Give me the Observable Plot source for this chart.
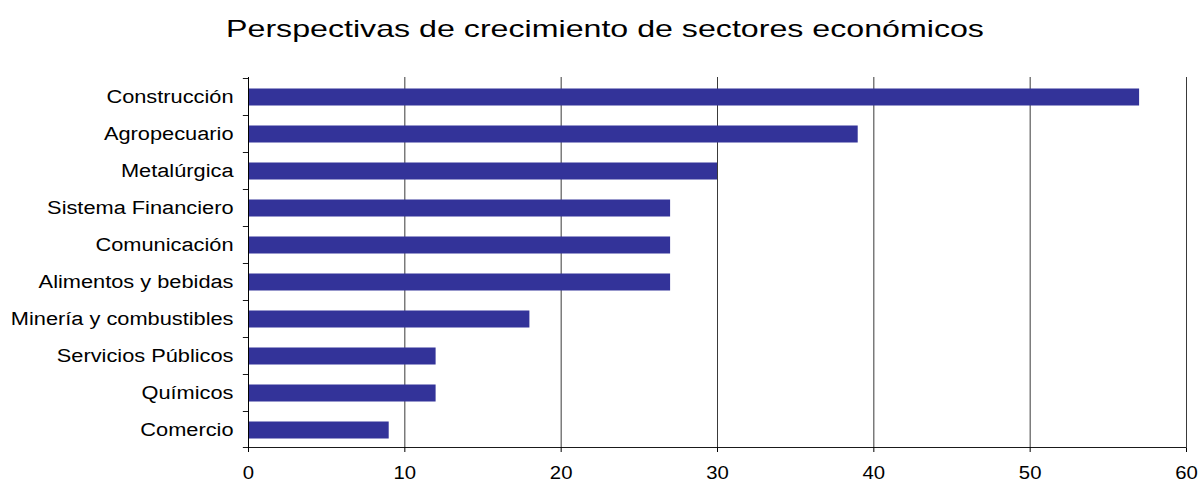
<!DOCTYPE html>
<html>
<head>
<meta charset="utf-8">
<script src="https://cdn.jsdelivr.net/npm/d3@7"></script>
<script src="https://cdn.jsdelivr.net/npm/@observablehq/plot@0.6"></script>
<style>
  html, body { margin: 0; padding: 0; background: #fff; }
  body { width: 1201px; height: 483px; overflow: hidden; font-family: "Liberation Sans", Arial, sans-serif; }
  #title { position: relative; height: 60px; }
  #title span { position: absolute; left: 605px; top: 17px; white-space: nowrap; font-size: 24px; line-height: 24px; color: #000; transform: translateX(-50%) scaleX(1.34); transform-origin: center; }
</style>
</head>
<body>
<div id="title"><span>Perspectivas de crecimiento de sectores económicos</span></div>
<div id="chart"></div>
<script>
const categories = ["Construcción", "Agropecuario", "Metalúrgica", "Sistema Financiero", "Comunicación", "Alimentos y bebidas", "Minería y combustibles", "Servicios Públicos", "Químicos", "Comercio"];
const values = [57, 39, 30, 27, 27, 27, 18, 12, 12, 9];
const xTicks = [0, 10, 20, 30, 40, 50, 60];

const data = categories.map((c, i) => ({sector: c, value: values[i]}));

const H = 423, mTop = 17, mBottom = 35;
const band = (H - mTop - mBottom) / categories.length;

const chart = Plot.plot({
  width: 1201,
  height: H,
  marginTop: mTop,
  marginBottom: mBottom,
  marginLeft: 248,
  marginRight: 15,
  style: {fontFamily: "'Liberation Sans', Arial, sans-serif", fontSize: "18px", color: "#000", background: "#fff"},
  x: {domain: [0, 60], ticks: xTicks, label: null, tickSize: 4, tickPadding: 14},
  y: {domain: categories, padding: 0, label: null, tickSize: 0, tickPadding: 15},
  marks: [
    Plot.ruleX(xTicks.filter(d => d > 0), {stroke: "#3a3a3a", strokeWidth: 1}),
    Plot.barX(data, {y: "sector", x: "value", fill: "#333399", insetTop: 10.5, insetBottom: 9.5}),
    Plot.barX(categories, {y: d => d, x1: -0.33, x2: 0, fill: "#000", insetTop: 0, insetBottom: band - 1}),
    Plot.barX([categories[categories.length - 1]], {y: d => d, x1: -0.33, x2: 60, fill: "#000", insetTop: band - 1, insetBottom: 0}),
    Plot.ruleX([0], {stroke: "#000", strokeWidth: 1})
  ]
});
document.getElementById("chart").appendChild(chart);

// widen the axis labels like the original rendering
const ySet = new Set(categories);
chart.querySelectorAll("text").forEach(t => {
  const s = t.textContent;
  const f = ySet.has(s) ? 1.21 : 1.13;
  const len = t.getComputedTextLength();
  t.setAttribute("textLength", (len * f).toFixed(1));
  t.setAttribute("lengthAdjust", "spacingAndGlyphs");
});
</script>
</body>
</html>
